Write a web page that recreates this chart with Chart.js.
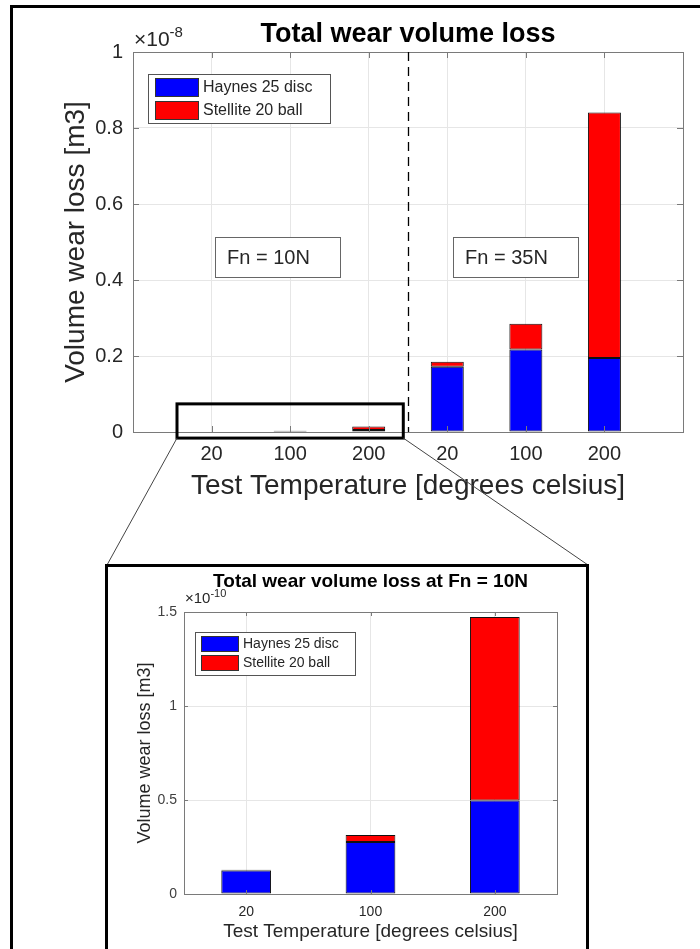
<!DOCTYPE html>
<html>
<head>
<meta charset="utf-8">
<script src="https://cdn.jsdelivr.net/npm/chart.js@4.4.1/dist/chart.umd.min.js"></script>
<style>
  body { margin: 0; background: #fff; }
  #wrap { position: relative; width: 700px; height: 949px; overflow: hidden; }
  #mainChart { position: absolute; left: 0; top: 0; }
  #insetChart { position: absolute; left: 108px; top: 567px; }
  .frame { position: absolute; border: 3px solid #000; box-sizing: border-box; pointer-events: none; }
</style>
</head>
<body>
<div id="wrap">
  <canvas id="mainChart" width="700" height="949"></canvas>
  <canvas id="insetChart" width="478" height="382"></canvas>
  <div class="frame" style="left:10px; top:5px; width:720px; height:980px; border-right:none; border-bottom:none;"></div>
  <div class="frame" style="left:105px; top:564px; width:484px; height:400px; border-bottom:none;"></div>
</div>
<script>
// temperatures (degrees celsius) for each load group
var temps = ['20', '100', '200'];
var mainLabels = ['20', '100', '200', '20', '100', '200'];

// Fn = 10N, volume loss in units of 1e-10 m3
var haynes10N = [0.125, 0.277, 0.497];
var stellite10N = [0.004, 0.037, 0.977];

// Fn = 35N, volume loss in units of 1e-8 m3
var haynes35N = [0.172, 0.217, 0.195];
var stellite35N = [0.013, 0.068, 0.646];

var mainYTicks = [0, 0.2, 0.4, 0.6, 0.8, 1];
var insetYTicks = [0, 0.5, 1, 1.5];

Chart.defaults.font.family = "'Liberation Sans', Arial, sans-serif";
Chart.defaults.color = '#262626';

var textColor = '#262626';
var boxColor = '#7a7a7a';
var gridColor = '#e6e6e6';
var edgeColor = '#111';
var blue = '#0000ff';
var red = '#ff0000';

// the main chart shows both groups in 1e-8 units, so the 10N values are /100
var haynesAll = haynes10N.map(function(v) { return v / 100; }).concat(haynes35N);
var stelliteAll = stellite10N.map(function(v) { return v / 100; }).concat(stellite35N);

function toPoints(arr) {
  return arr.map(function(v, i) { return {x: i + 1, y: v}; });
}

// draw "x10^n" above the y axis
function drawExponent(ctx, x, y, exp, size, supSize) {
  ctx.fillStyle = textColor;
  ctx.textAlign = 'left';
  ctx.textBaseline = 'alphabetic';
  ctx.font = size + "px 'Liberation Sans', Arial, sans-serif";
  var base = '\u00d710';
  ctx.fillText(base, x, y);
  var w = ctx.measureText(base).width;
  ctx.font = supSize + "px 'Liberation Sans', Arial, sans-serif";
  ctx.fillText(exp, x + w, y - size * 0.42);
}

// MATLAB style legend box inside the axes
function drawLegend(chart, lg) {
  var ctx = chart.ctx;
  var a = chart.chartArea;
  var x0 = a.left + lg.dx, y0 = a.top + lg.dy;
  ctx.fillStyle = '#fff';
  ctx.fillRect(x0, y0, lg.w, lg.h);
  ctx.strokeStyle = '#555';
  ctx.lineWidth = 1;
  ctx.strokeRect(x0 + 0.5, y0 + 0.5, lg.w, lg.h);
  ctx.font = lg.font + "px 'Liberation Sans', Arial, sans-serif";
  ctx.textBaseline = 'middle';
  ctx.textAlign = 'left';
  chart.data.datasets.forEach(function(ds, i) {
    var sy = y0 + lg.padTop + i * (lg.swH + lg.gap);
    ctx.fillStyle = ds.backgroundColor;
    ctx.fillRect(x0 + lg.padLeft, sy, lg.swW, lg.swH);
    ctx.strokeStyle = '#333';
    ctx.strokeRect(x0 + lg.padLeft + 0.5, sy + 0.5, lg.swW, lg.swH);
    ctx.fillStyle = textColor;
    ctx.fillText(ds.label, x0 + lg.padLeft + lg.swW + 5, sy + lg.swH / 2 + 1);
  });
}

// axes box with inward ticks on all four sides
function drawBox(chart, len) {
  var ctx = chart.ctx;
  var a = chart.chartArea;
  var xs = chart.scales.x, ys = chart.scales.y;
  ctx.strokeStyle = boxColor;
  ctx.lineWidth = 1;
  ctx.strokeRect(a.left + 0.5, a.top + 0.5, a.right - a.left, a.bottom - a.top);
  ctx.beginPath();
  xs.ticks.forEach(function(t, i) {
    var px = Math.round(xs.getPixelForTick(i)) + 0.5;
    ctx.moveTo(px, a.bottom); ctx.lineTo(px, a.bottom - len);
    ctx.moveTo(px, a.top); ctx.lineTo(px, a.top + len);
  });
  ys.ticks.forEach(function(t) {
    var py = Math.round(ys.getPixelForValue(t.value)) + 0.5;
    ctx.moveTo(a.left, py); ctx.lineTo(a.left + len, py);
    ctx.moveTo(a.right, py); ctx.lineTo(a.right - len, py);
  });
  ctx.stroke();
}

function drawTitle(chart, text, size, baseY) {
  var ctx = chart.ctx;
  var a = chart.chartArea;
  ctx.fillStyle = '#000';
  ctx.font = 'bold ' + size + "px 'Liberation Sans', Arial, sans-serif";
  ctx.textAlign = 'center';
  ctx.textBaseline = 'alphabetic';
  ctx.fillText(text, (a.left + a.right) / 2, baseY);
}

// text box such as "Fn = 10N", centred on a data position
function drawNote(chart, text, xv, yv) {
  var ctx = chart.ctx;
  var cx = chart.scales.x.getPixelForValue(xv);
  var cy = chart.scales.y.getPixelForValue(yv);
  var w = 125, h = 40;
  var x0 = Math.round(cx - w / 2), y0 = Math.round(cy - h / 2);
  ctx.fillStyle = '#fff';
  ctx.fillRect(x0, y0, w, h);
  ctx.strokeStyle = '#666';
  ctx.lineWidth = 1;
  ctx.strokeRect(x0 + 0.5, y0 + 0.5, w, h);
  ctx.fillStyle = textColor;
  ctx.font = "20px 'Liberation Sans', Arial, sans-serif";
  ctx.textAlign = 'left';
  ctx.textBaseline = 'middle';
  ctx.fillText(text, x0 + 12, y0 + h / 2 + 1);
}

var mainOverlay = {
  id: 'mainOverlay',
  afterDraw: function(chart) {
    var ctx = chart.ctx;
    var a = chart.chartArea;
    var xs = chart.scales.x, ys = chart.scales.y;
    ctx.save();
    drawBox(chart, 6);

    // dashed line between the two load groups
    var sep = Math.round(xs.getPixelForValue(3.5)) + 0.5;
    ctx.strokeStyle = '#000';
    ctx.lineWidth = 1.3;
    ctx.setLineDash([9, 6]);
    ctx.beginPath();
    ctx.moveTo(sep, a.top);
    ctx.lineTo(sep, a.bottom);
    ctx.stroke();
    ctx.setLineDash([]);

    drawNote(chart, 'Fn = 10N', 1.84, 0.46);
    drawNote(chart, 'Fn = 35N', 4.87, 0.46);

    drawLegend(chart, {dx: 15, dy: 22, w: 182, h: 49, padLeft: 7, padTop: 4, swW: 43, swH: 18, gap: 5, font: 16});
    drawTitle(chart, 'Total wear volume loss', 27, 42);
    drawExponent(ctx, a.left + 1, 46, '-8', 21, 15);

    // zoom rectangle around the 10N bars
    var zl = xs.getPixelForValue(0.56), zr = xs.getPixelForValue(3.44);
    var zt = ys.getPixelForValue(0.074), zb = ys.getPixelForValue(-0.016);
    ctx.strokeStyle = '#000';
    ctx.lineWidth = 3;
    ctx.strokeRect(zl, zt, zr - zl, zb - zt);

    // connector lines down to the inset frame
    ctx.strokeStyle = '#444';
    ctx.lineWidth = 1;
    ctx.beginPath();
    ctx.moveTo(zl, zb); ctx.lineTo(107, 565);
    ctx.moveTo(zr, zb); ctx.lineTo(588, 565);
    ctx.stroke();
    ctx.restore();
  }
};

var insetOverlay = {
  id: 'insetOverlay',
  afterDraw: function(chart) {
    var ctx = chart.ctx;
    var a = chart.chartArea;
    ctx.save();
    drawBox(chart, 4);
    drawLegend(chart, {dx: 11, dy: 20, w: 160, h: 43, padLeft: 6, padTop: 4, swW: 37, swH: 15, gap: 4, font: 14});
    drawTitle(chart, 'Total wear volume loss at Fn = 10N', 19, 20);
    drawExponent(ctx, a.left + 1, 36, '-10', 15, 11);
    ctx.restore();
  }
};

new Chart(document.getElementById('mainChart').getContext('2d'), {
  type: 'bar',
  data: {
    datasets: [{
      label: 'Haynes 25 disc',
      data: toPoints(haynesAll),
      backgroundColor: blue,
      borderColor: edgeColor,
      borderWidth: 1,
      borderSkipped: false
    }, {
      label: 'Stellite 20 ball',
      data: toPoints(stelliteAll),
      backgroundColor: red,
      borderColor: edgeColor,
      borderWidth: 1,
      borderSkipped: false
    }]
  },
  options: {
    responsive: false,
    animation: false,
    barPercentage: 0.42,
    categoryPercentage: 1,
    layout: { padding: { top: 52, right: 17, bottom: 389, left: 0 } },
    plugins: { legend: { display: false }, tooltip: { enabled: false }, title: { display: false } },
    scales: {
      x: {
        type: 'linear',
        min: 0,
        max: 7,
        offset: false,
        stacked: true,
        afterBuildTicks: function(s) {
          s.ticks = [0, 1, 2, 3, 4, 5, 6, 7].map(function(v) { return {value: v}; });
        },
        afterFit: function(s) { s.height = 128; },
        ticks: {
          callback: function(v) { return mainLabels[v - 1] || ''; },
          font: { size: 20 },
          color: textColor,
          padding: 10,
          maxRotation: 0,
          autoSkip: false
        },
        grid: { color: gridColor, drawTicks: false, offset: false },
        border: { color: boxColor },
        title: {
          display: true,
          text: 'Test Temperature [degrees celsius]',
          font: { size: 28 },
          color: textColor,
          padding: { top: 0, bottom: 57 }
        }
      },
      y: {
        min: 0,
        max: 1,
        stacked: true,
        afterBuildTicks: function(s) {
          s.ticks = mainYTicks.map(function(v) { return {value: v}; });
        },
        afterFit: function(s) { s.width = 133; },
        ticks: {
          callback: function(v) { return String(v); },
          font: { size: 20 },
          color: textColor,
          padding: 10
        },
        grid: { color: gridColor, drawTicks: false },
        border: { color: boxColor },
        title: {
          display: true,
          text: 'Volume wear loss [m3]',
          font: { size: 28 },
          color: textColor,
          padding: { top: 59, bottom: 0 }
        }
      }
    }
  },
  plugins: [mainOverlay]
});

new Chart(document.getElementById('insetChart').getContext('2d'), {
  type: 'bar',
  data: {
    labels: temps,
    datasets: [{
      label: 'Haynes 25 disc',
      data: haynes10N,
      backgroundColor: blue,
      borderColor: edgeColor,
      borderWidth: 1,
      borderSkipped: false
    }, {
      label: 'Stellite 20 ball',
      data: stellite10N,
      backgroundColor: red,
      borderColor: edgeColor,
      borderWidth: 1,
      borderSkipped: false
    }]
  },
  options: {
    responsive: false,
    animation: false,
    barPercentage: 0.4,
    categoryPercentage: 1,
    layout: { padding: { top: 45, right: 29, bottom: 0, left: 0 } },
    plugins: { legend: { display: false }, tooltip: { enabled: false }, title: { display: false } },
    scales: {
      x: {
        stacked: true,
        offset: true,
        afterFit: function(s) { s.height = 55; },
        ticks: { font: { size: 14 }, color: textColor, padding: 10, maxRotation: 0 },
        grid: { color: gridColor, drawTicks: false, offset: false },
        border: { color: boxColor },
        title: {
          display: true,
          text: 'Test Temperature [degrees celsius]',
          font: { size: 19 },
          color: textColor,
          padding: { top: 0, bottom: 6 }
        }
      },
      y: {
        min: 0,
        max: 1.5,
        stacked: true,
        afterBuildTicks: function(s) {
          s.ticks = insetYTicks.map(function(v) { return {value: v}; });
        },
        afterFit: function(s) { s.width = 76; },
        ticks: {
          callback: function(v) { return String(v); },
          font: { size: 14 },
          color: '#404040',
          padding: 7
        },
        grid: { color: gridColor, drawTicks: false },
        border: { color: boxColor },
        title: {
          display: true,
          text: 'Volume wear loss [m3]',
          font: { size: 18 },
          color: textColor,
          padding: { top: 26, bottom: 0 }
        }
      }
    }
  },
  plugins: [insetOverlay]
});
</script>
</body>
</html>
